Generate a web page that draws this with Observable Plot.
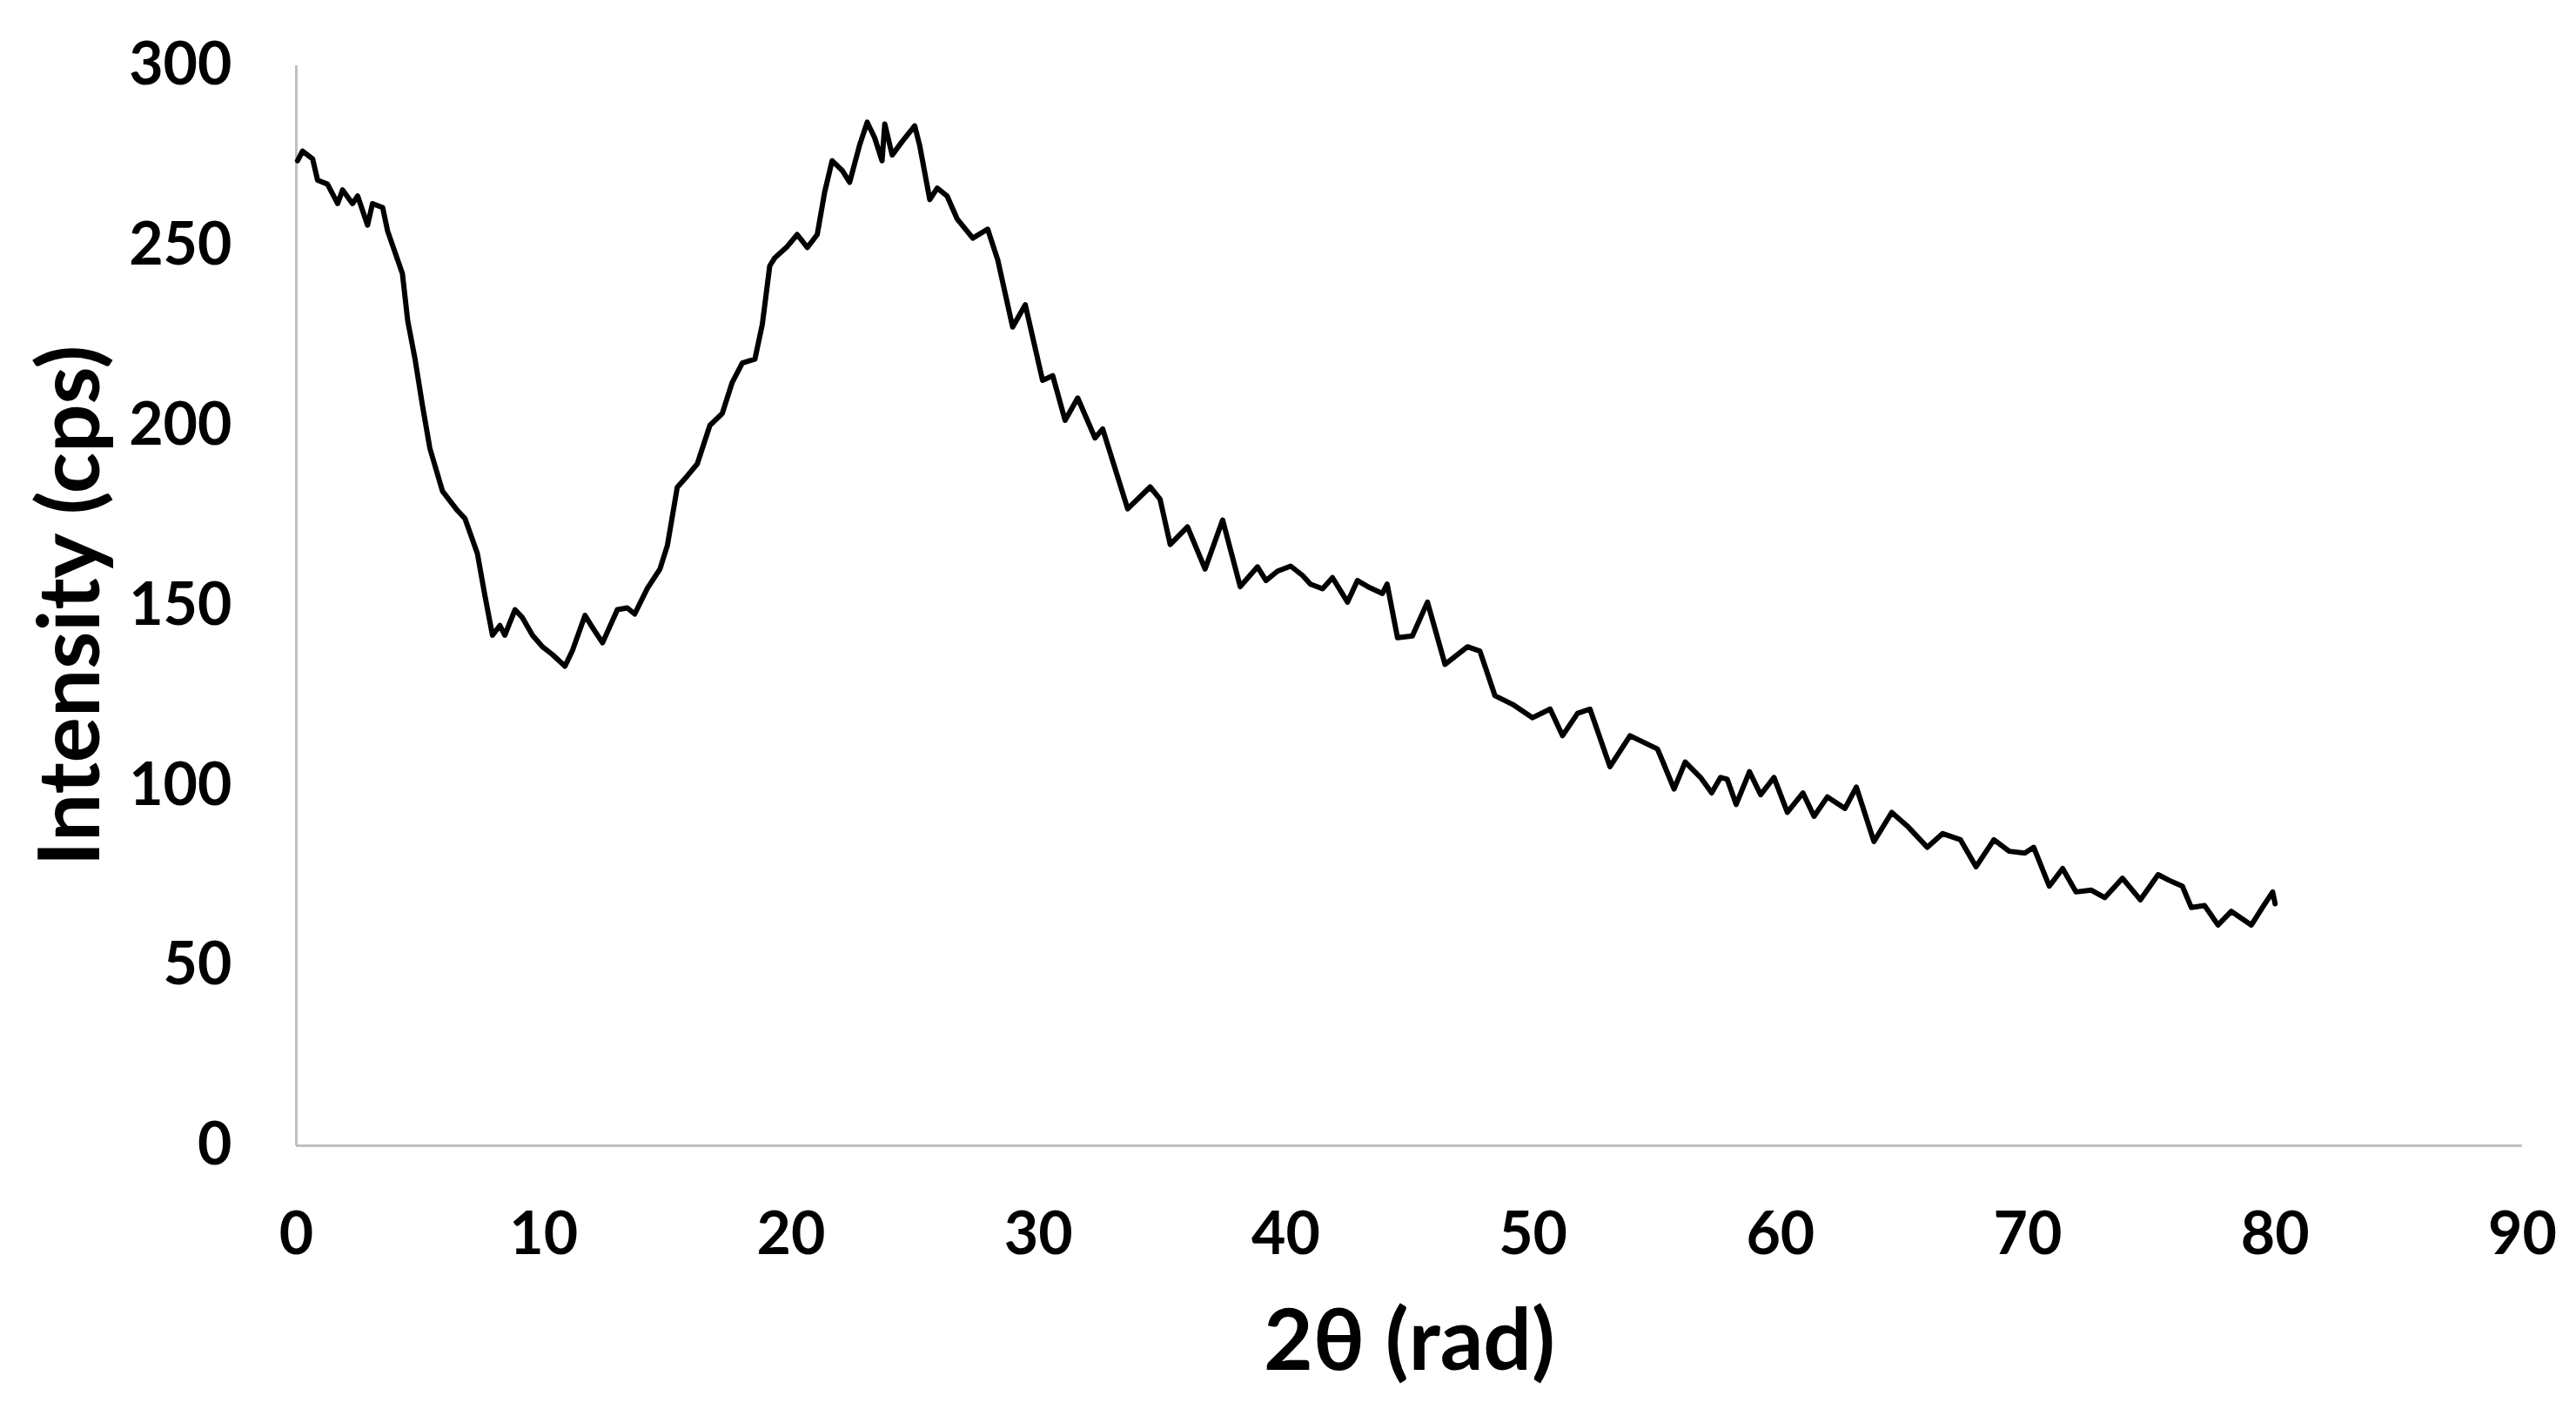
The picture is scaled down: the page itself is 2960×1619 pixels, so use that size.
<!DOCTYPE html>
<html><head><meta charset="utf-8">
<script src="https://cdn.jsdelivr.net/npm/d3@7"></script>
<script src="https://cdn.jsdelivr.net/npm/@observablehq/plot@0.6"></script>
<style>html,body{margin:0;padding:0;background:#fff;overflow:hidden;}</style>
</head><body><div id="chart"></div>
<script>
const twoTheta = [
  0.05, 0.25, 0.66, 0.86, 1.26, 1.67, 1.87, 2.27, 2.48, 2.88, 3.08, 3.49, 3.69, 4.29, 4.5, 4.8, 5.1, 5.4, 5.91,
  6.52, 6.82, 7.32, 7.63, 7.93, 8.23, 8.43, 8.84, 9.14, 9.55, 9.95, 10.36, 10.86, 11.16, 11.67, 11.97, 12.38,
  12.98, 13.38, 13.68, 14.19, 14.7, 15.0, 15.4, 15.81, 16.21, 16.72, 17.22, 17.62, 18.03, 18.54, 18.84, 19.14,
  19.34, 19.85, 20.25, 20.66, 21.06, 21.36, 21.66, 22.07, 22.37, 22.77, 23.08, 23.38, 23.68, 23.79, 24.09, 24.5,
  25.0, 25.2, 25.61, 25.91, 26.31, 26.72, 27.35, 27.95, 28.36, 28.96, 29.47, 30.17, 30.58, 31.08, 31.59, 32.29,
  32.6, 33.61, 34.52, 34.92, 35.33, 36.03, 36.74, 37.45, 38.16, 38.86, 39.2, 39.67, 40.2, 40.68, 41.0, 41.49,
  41.89, 42.5, 42.9, 43.4, 43.91, 44.1, 44.52, 45.12, 45.73, 46.44, 47.35, 47.85, 48.46, 49.17, 49.98, 50.69,
  51.19, 51.8, 52.3, 53.11, 53.92, 55.03, 55.25, 55.7, 56.15, 56.77, 57.22, 57.58, 57.85, 58.21, 58.75, 59.2,
  59.74, 60.28, 60.91, 61.36, 61.9, 62.61, 63.07, 63.78, 64.5, 65.13, 65.94, 66.56, 67.28, 67.91, 68.63, 69.25,
  69.88, 70.24, 70.87, 71.41, 71.95, 72.57, 73.11, 73.83, 74.55, 75.27, 75.72, 76.25, 76.61, 77.15, 77.69, 78.23,
  79.04, 79.49, 79.9, 80.0
];
const intensity = [
  273.6, 276.3, 274.1, 268.2, 267.1, 261.7, 265.5, 261.7, 263.8, 255.7, 261.7, 260.6, 254.1, 242.2, 229.3, 218.5, 205.6, 193.7, 181.8,
  176.4, 174.2, 164.5, 152.6, 141.8, 144.5, 141.8, 148.9, 146.7, 141.8, 138.6, 136.4, 133.2, 137.5, 147.3, 144.0, 139.7,
  148.9, 149.4, 147.7, 154.8, 160.2, 166.7, 182.9, 186.1, 189.4, 200.1, 203.4, 212.0, 217.4, 218.5, 228.2, 244.4,
  246.6, 249.8, 253.1, 249.5, 253.1, 264.9, 273.6, 270.9, 267.6, 277.9, 284.3, 280.0, 273.6, 283.8, 275.2, 279.0,
  283.3, 277.9, 262.8, 266.0, 263.8, 257.4, 252.1, 254.6, 246.0, 227.4, 233.6, 212.6, 213.9, 201.5, 207.7, 196.6,
  199.1, 176.9, 183.0, 179.6, 167.0, 171.9, 160.2, 173.8, 155.3, 160.8, 157.0, 159.6, 161.0, 158.4, 156.0, 154.7,
  157.8, 151.0, 157.0, 155.0, 153.4, 156.0, 141.1, 141.6, 151.0, 133.7, 138.6, 137.4, 125.0, 122.6, 118.9, 121.3,
  113.9, 120.1, 121.3, 105.3, 113.9, 110.2, 106.6, 99.1, 106.6, 102.3, 98.0, 102.3, 101.8, 94.8, 103.9, 97.5,
  102.3, 92.6, 98.0, 91.5, 96.9, 93.7, 99.6, 84.5, 92.6, 88.8, 82.9, 86.7, 85.0, 77.5, 85.0, 81.8,
  81.3, 82.9, 72.1, 77.0, 70.5, 71.0, 68.9, 74.3, 68.3, 75.3, 73.7, 72.1, 66.2, 66.7, 61.3, 65.1,
  61.3, 66.2, 70.5, 67.2
];
const xTicks = [0, 10, 20, 30, 40, 50, 60, 70, 80, 90];
const yTicks = [0, 50, 100, 150, 200, 250, 300];
const xTitle = "2θ (rad)";
const yTitle = "Intensity (cps)";

const data = twoTheta.map((x, i) => ({x, y: intensity[i]}));

const chart = Plot.plot({
  width: 2960,
  height: 1619,
  marginLeft: 340,
  marginRight: 62,
  marginTop: 75,
  marginBottom: 303,
  style: {fontFamily: "Lato, 'Open Sans', sans-serif", fontWeight: "bold", background: "#fff", color: "#000"},
  x: {domain: [0, 90]},
  y: {domain: [0, 300]},
  marks: [
    Plot.ruleY([0], {stroke: "#c0c0c0", strokeWidth: 3}),
    Plot.ruleX([0], {stroke: "#c0c0c0", strokeWidth: 3}),
    Plot.axisX({ticks: xTicks, tickSize: 0, tickPadding: 76, fontSize: 68, fontWeight: "bold", label: null}),
    Plot.axisY({ticks: yTicks, tickSize: 0, tickPadding: 74, fontSize: 68, fontWeight: "bold", label: null}),
    Plot.line(data, {x: "x", y: "y", stroke: "#000", strokeWidth: 6, strokeLinejoin: "round"}),
    Plot.text([xTitle], {frameAnchor: "bottom", dy: 226, textAnchor: "middle", lineAnchor: "middle", fontSize: 98, fontWeight: "bold", fill: "#000"}),
    Plot.text([yTitle], {frameAnchor: "left", dx: -258, textAnchor: "middle", lineAnchor: "middle", rotate: -90, fontSize: 98, fontWeight: "bold", fill: "#000"})
  ]
});
document.getElementById("chart").appendChild(chart);
</script>
</body></html>
